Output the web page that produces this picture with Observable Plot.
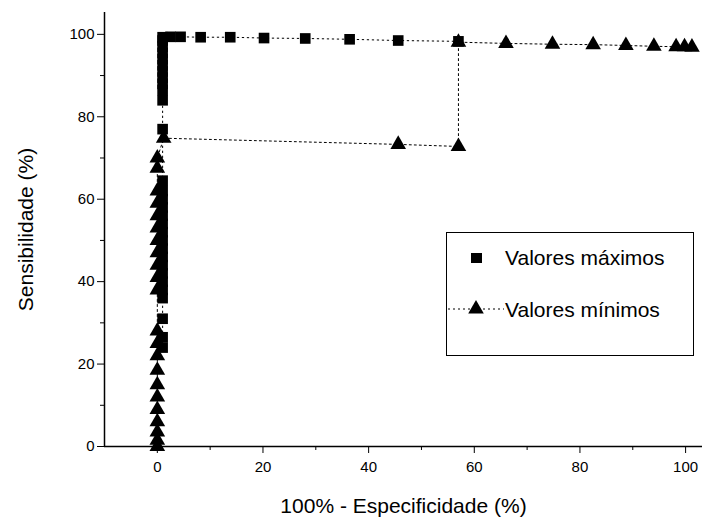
<!DOCTYPE html>
<html><head><meta charset="utf-8">
<script src="https://cdn.jsdelivr.net/npm/d3@7"></script>
<script src="https://cdn.jsdelivr.net/npm/@observablehq/plot@0.6"></script>
<style>
body{margin:0;background:#fff;}
#wrap{position:relative;width:702px;height:525px;font-family:"Liberation Sans",Arial,sans-serif;}
#legend{position:absolute;left:446px;top:232px;width:248px;height:124px;border:1px solid #000;box-sizing:border-box;background:#fff;}
#legend svg{position:absolute;left:0;top:0;}
#legend .t{position:absolute;left:58px;font-size:21px;line-height:24px;color:#000;white-space:nowrap;}
</style></head>
<body><div id="wrap"></div>
<script>
// Valores máximos (squares)
const maxX = [1,1,1,1,1,1,1,1,1,1,1,1,1,1,1,1,1,1,1,1,1,1,1,1,1,1,1,1,1,1, 2.5,4.4,8.2,13.8,20.2,28,36.4,45.6,57];
const maxY = [24,26.5,31,36,38,40,42,44,46,48,50,52,54,56,58,60,62,64.5,77,84,86.5,88,89.5,91,92.5,94,95.5,97,98.5,99.3, 99.4,99.4,99.3,99.3,99.1,99.0,98.8,98.5,98.3];
// Valores mínimos (triangles)
const minX = [0,0,0,0,0,0,0,0,0,0,0,0,0,0,0,0,0,0,0,0,0,0, 1.2,45.6,57,57,66,74.8,82.5,88.7,94,98.2,99.8,101.2];
const minY = [0,1.5,3.5,6,9,12,15,18.5,22,25,28,38,41,44,47,50,53,56,59,62,67.5,70, 74.8,73.3,72.8,98.1,97.8,97.6,97.5,97.3,97.1,97.0,97.0,96.9];
const xMajor = [0,20,40,60,80,100];
const xMinor = [10,30,50,70,90];
const yMajor = [0,20,40,60,80,100];
const yMinor = [10,30,50,70,90];
const seriesNames = ["Valores máximos","Valores mínimos"];
const xTitle = "100% - Especificidade (%)";
const yTitle = "Sensibilidade (%)";

const maxData = maxX.map((x,i)=>({x, y:maxY[i]}));
const minData = minX.map((x,i)=>({x, y:minY[i]}));

const chart = Plot.plot({
  width: 702, height: 525,
  marginLeft: 104, marginRight: 0, marginTop: 12, marginBottom: 79,
  style: {fontFamily: '"Liberation Sans", Arial, sans-serif', fontSize: "15px", color: "#000", background: "#fff"},
  x: {domain: [-10, 103.2]},
  y: {domain: [0, 105.3]},
  marks: [
    Plot.axisX({ticks: xMajor, tickSize: 7, tickPadding: 8, fontSize: 15, label: null}),
    Plot.axisX({ticks: xMinor, tickSize: 4, text: null, label: null}),
    Plot.axisX({ticks: [], label: xTitle, labelAnchor: "center", labelArrow: "none", labelOffset: 66, fontSize: 21}),
    Plot.axisY({ticks: yMajor, tickSize: 7, tickPadding: 3, fontSize: 15, label: null}),
    Plot.axisY({ticks: yMinor, tickSize: 4, text: null, label: null}),
    Plot.axisY({ticks: [], label: yTitle, labelAnchor: "center", labelArrow: "none", labelOffset: 86, fontSize: 21}),
    Plot.ruleX([-10], {stroke: "#000", strokeWidth: 1.5}),
    Plot.ruleY([0], {stroke: "#000", strokeWidth: 1.5}),
    Plot.line(maxData, {x: "x", y: "y", stroke: "#000", strokeWidth: 1, strokeDasharray: "1.5,3.5"}),
    Plot.line(minData, {x: "x", y: "y", stroke: "#000", strokeWidth: 1, strokeDasharray: "2,3"}),
    Plot.dot(maxData, {x: "x", y: "y", symbol: "square", r: 6, fill: "#000", stroke: "none"}),
    Plot.dot(minData, {x: "x", y: "y", symbol: "triangle", r: 5.8, fill: "#000", stroke: "none"})
  ]
});
const wrap = document.getElementById("wrap");
wrap.appendChild(chart);

const leg = document.createElement("div");
leg.id = "legend";
leg.innerHTML = `
<svg width="248" height="124">
  <rect x="24" y="20" width="11" height="10" fill="#000"/>
  <line x1="1" x2="57" y1="76" y2="76" stroke="#000" stroke-dasharray="2,3"/>
  <path d="${d3.symbol(d3.symbolTriangle, Math.PI*5.8*5.8)()}" transform="translate(29,76)" fill="#000"/>
</svg>
<span class="t" style="top:13px">${seriesNames[0]}</span>
<span class="t" style="top:65px">${seriesNames[1]}</span>`;
wrap.appendChild(leg);
</script>
</body></html>
